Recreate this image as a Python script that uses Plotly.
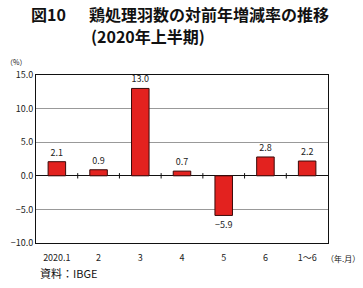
import plotly.graph_objects as go

categories = ["2020.1", "2", "3", "4", "5", "6", "1～6"]
values = [2.1, 0.9, 13.0, 0.7, -5.9, 2.8, 2.2]
labels = ["2.1", "0.9", "13.0", "0.7", "−5.9", "2.8", "2.2"]
tick_vals = [-10, -5, 0, 5, 10, 15]
tick_text = ["−10.0", "−5.0", "0.0", "5.0", "10.0", "15.0"]

font = "Noto Sans CJK JP"
W, H = 363, 288
L, R, T, B = 36, 35, 75, 45
pw = W - L - R
ph = H - T - B

fig = go.Figure()
fig.add_trace(go.Bar(
    x=list(range(len(categories))), y=values,
    width=0.42,
    marker=dict(color="#e3221f", line=dict(color="#3a0a0a", width=1)),
    text=labels, textposition="outside",
    textfont=dict(family=font, size=9, color="#222"),
    cliponaxis=False,
))

fig.update_layout(
    width=W, height=H,
    margin=dict(l=L, r=R, t=T, b=B),
    paper_bgcolor="white", plot_bgcolor="white",
    showlegend=False,
    font=dict(family=font, size=9, color="#222"),
    xaxis=dict(
        range=[-0.5, len(categories) - 0.5],
        tickvals=list(range(len(categories))), ticktext=categories,
        showgrid=False, zeroline=False, showline=True, mirror=True,
        linecolor="#111", linewidth=1, ticks="", ticklabelstandoff=6,
        tickfont=dict(family=font, size=9),
    ),
    yaxis=dict(
        range=[-10, 15], tickvals=tick_vals, ticktext=tick_text,
        showgrid=True, gridcolor="#999", gridwidth=1,
        zeroline=True, zerolinecolor="#111", zerolinewidth=1,
        showline=True, mirror=True, linecolor="#111", linewidth=1,
        ticks="", tickfont=dict(family=font, size=9),
    ),
)

# text placed by pixel position (x, y-top, size, xanchor)
texts = [
    ("<b>図10</b>", 29, 0, 16, "left"),
    ("<b>鶏処理羽数の対前年増減率の推移</b>", 87, 0, 16, "left"),
    ("<b>(2020年上半期)</b>", 89, 22, 16, "left"),
    ("（%）", 4, 55, 7, "left"),
    ("（年.月）", 362, 251, 8, "right"),
    ("資料：IBGE", 38, 263, 11, "left"),
]
for t, px, py, s, xa in texts:
    fig.add_annotation(
        text=t, showarrow=False, xref="paper", yref="paper",
        x=(px - L) / pw, y=1 - (py - T) / ph,
        xanchor=xa, yanchor="top",
        font=dict(family=font, size=s, color="#111"),
    )

# small tick marks between categories on the zero line
shapes = []
for i in range(len(categories) - 1):
    shapes.append(dict(type="line", xref="x", yref="y",
                       x0=i + 0.5, x1=i + 0.5, y0=-0.4, y1=0.4,
                       line=dict(color="#111", width=1)))
fig.update_layout(shapes=shapes)

fig.write_html("out.html")
